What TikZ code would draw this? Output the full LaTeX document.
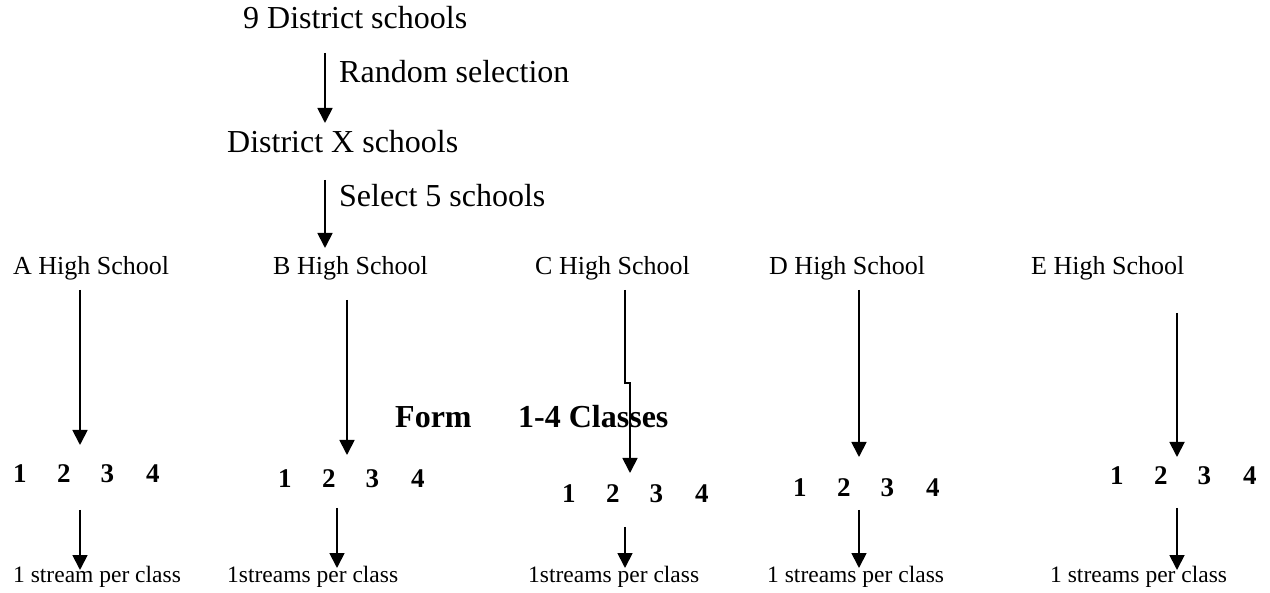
\documentclass[tikz,border=0pt]{standalone}
\usepackage{fontspec}
\setmainfont{Liberation Serif}
\usetikzlibrary{arrows.meta}
\begin{document}
\begin{tikzpicture}[x=1pt,y=-1pt,
  big/.style={anchor=base west,inner sep=0pt,font=\fontsize{32}{38}\selectfont},
  lbl/.style={anchor=base west,inner sep=0pt,font=\fontsize{26}{30}\selectfont},
  small/.style={anchor=base west,inner sep=0pt,font=\fontsize{23.5}{28}\selectfont},
  digs/.style={anchor=base west,inner sep=0pt,font=\fontsize{27}{32}\selectfont\bfseries},
  bold/.style={anchor=base west,inner sep=0pt,font=\fontsize{32}{38}\selectfont\bfseries},
  arr/.style={line width=1.8pt,-{Triangle[length=15pt,width=15pt]}}]
\useasboundingbox (0,0) rectangle (1270,593);
\newcommand{\digrow}{1\hspace{30.5pt}2\hspace{30pt}3\hspace{32pt}4}
% top
\node[big] (t1) at (243,29) {9 District schools};
\node[big] (rs) at (339,83) {Random selection};
\node[big] (t2) at (227,153) {District X schools};
\node[big] (s5) at (339,207) {Select 5 schools};
\coordinate (a1s) at (325,53); \coordinate (a1e) at (325,123);
\coordinate (a2s) at (325,180); \coordinate (a2e) at (325,248);
\draw[arr] (a1s) -- (a1e);
\draw[arr] (a2s) -- (a2e);
% schools
\node[lbl] (A) at (13,275) {A High School};
\node[lbl] (B) at (273,275) {B High School};
\node[lbl] (C) at (535,275) {C High School};
\node[lbl] (D) at (769,275) {D High School};
\node[lbl] (E) at (1031,275) {E High School};
% form
\node[bold] (form) at (395,428) {Form};
\node[bold] (cls) at (518,428) {1-4 Classes};
% digits
\node[digs] (Ad) at (13,483) {\digrow};
\node[digs] (Bd) at (278,488) {\digrow};
\node[digs] (Cd) at (562,503) {\digrow};
\node[digs] (Dd) at (793,497) {\digrow};
\node[digs] (Ed) at (1110,485) {\digrow};
% streams
\node[small] (As) at (13,583) {1 stream per class};
\node[small] (Bs) at (227,583) {1streams per class};
\node[small] (Cs) at (528,583) {1streams per class};
\node[small] (Ds) at (767,583) {1 streams per class};
\node[small] (Es) at (1050,583) {1 streams per class};
% upper arrows
\coordinate (Au) at (80,290); \coordinate (Av) at (80,445);
\coordinate (Bu) at (347,300); \coordinate (Bv) at (347,455);
\coordinate (Cu) at (625,290); \coordinate (Cj) at (625,383); \coordinate (Ck) at (630,383); \coordinate (Cv) at (630,473);
\coordinate (Du) at (859,290); \coordinate (Dv) at (859,457);
\coordinate (Eu) at (1177,313); \coordinate (Ev) at (1177,457);
\draw[arr] (Au) -- (Av);
\draw[arr] (Bu) -- (Bv);
\draw[arr] (Cu) -- (Cj) -- (Ck) -- (Cv);
\draw[arr] (Du) -- (Dv);
\draw[arr] (Eu) -- (Ev);
% lower arrows
\coordinate (Al) at (80,510); \coordinate (Am) at (80,570);
\coordinate (Bl) at (337,508); \coordinate (Bm) at (337,568);
\coordinate (Cl) at (625,527); \coordinate (Cm) at (625,568);
\coordinate (Dl) at (859,510); \coordinate (Dm) at (859,568);
\coordinate (El) at (1177,508); \coordinate (Em) at (1177,570);
\draw[arr] (Al) -- (Am);
\draw[arr] (Bl) -- (Bm);
\draw[arr] (Cl) -- (Cm);
\draw[arr] (Dl) -- (Dm);
\draw[arr] (El) -- (Em);
\end{tikzpicture}
\end{document}
